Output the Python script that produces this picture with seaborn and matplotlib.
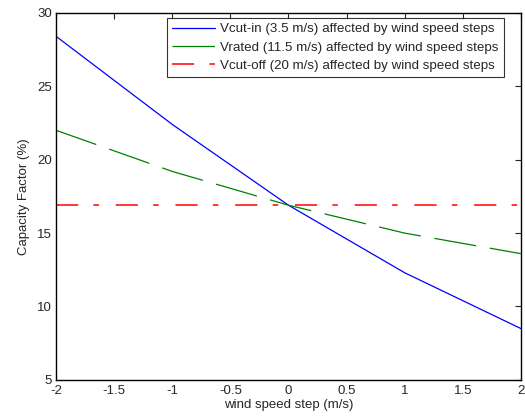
import pandas as pd
import numpy as np
import matplotlib
matplotlib.use("Agg")
import matplotlib.pyplot as plt
import seaborn as sns

# values
steps = [-2, -1, 0, 1, 2]
cf_cutin = [28.4, 22.4, 16.9, 12.3, 8.5]
cf_rated = [22.0, 19.2, 16.9, 15.0, 13.6]
cf_cutoff = [16.9, 16.9, 16.9, 16.9, 16.9]
labels = ["Vcut-in (3.5 m/s) affected by wind speed steps",
          "Vrated (11.5 m/s) affected by wind speed steps",
          "Vcut-off (20 m/s) affected by wind speed steps"]

df = pd.DataFrame({
    "step": steps * 3,
    "cf": cf_cutin + cf_rated + cf_cutoff,
    "series": [labels[0]] * 5 + [labels[1]] * 5 + [labels[2]] * 5,
})

sns.set_style("white")
plt.rcParams["font.family"] = ["Liberation Sans", "DejaVu Sans"]

fig, ax = plt.subplots(figsize=(5.25, 4.17), dpi=100)
colors = {labels[0]: "#0000ff", labels[1]: "#008000", labels[2]: "#ff0000"}
dashes = {labels[0]: "", labels[1]: (34, 11), labels[2]: (14.5, 10, 3.6, 11)}
sns.lineplot(data=df, x="step", y="cf", hue="series", style="series",
             palette=colors, dashes=dashes, linewidth=0.9, ax=ax)
# cut-off line is drawn a bit heavier in the reference
ax.get_lines()[2].set_linewidth(1.1)

ax.set_xlim(-2, 2)
ax.set_ylim(5, 30)
ax.set_xticks(np.arange(-2, 2.01, 0.5))
ax.set_xticklabels(["-2", "-1.5", "-1", "-0.5", "0", "0.5", "1", "1.5", "2"])
ax.set_yticks([5, 10, 15, 20, 25, 30])
ax.tick_params(direction="in", top=True, right=True, length=4, width=0.8, labelsize=9.5)
ax.tick_params(axis="x", pad=4)
ax.tick_params(axis="y", pad=3)
for s in ax.spines.values():
    s.set_linewidth(1.0)
    s.set_color("black")
ax.set_xlabel("wind speed step (m/s)", fontsize=9.5, labelpad=1)
ax.set_ylabel("Capacity Factor (%)", fontsize=9.5, labelpad=5)

leg = ax.legend(loc="upper right", fontsize=9.6, frameon=True, fancybox=False,
                edgecolor="black", borderpad=0.4, handlelength=3.2,
                handletextpad=0.4, labelspacing=0.45, borderaxespad=0.0,
                bbox_to_anchor=(0.963, 0.987))
leg.get_frame().set_linewidth(0.8)
leg.get_lines()[2].set_linewidth(1.1)

fig.subplots_adjust(left=0.107, right=0.992, top=0.969, bottom=0.089)
fig.savefig("out.png", dpi=100)
